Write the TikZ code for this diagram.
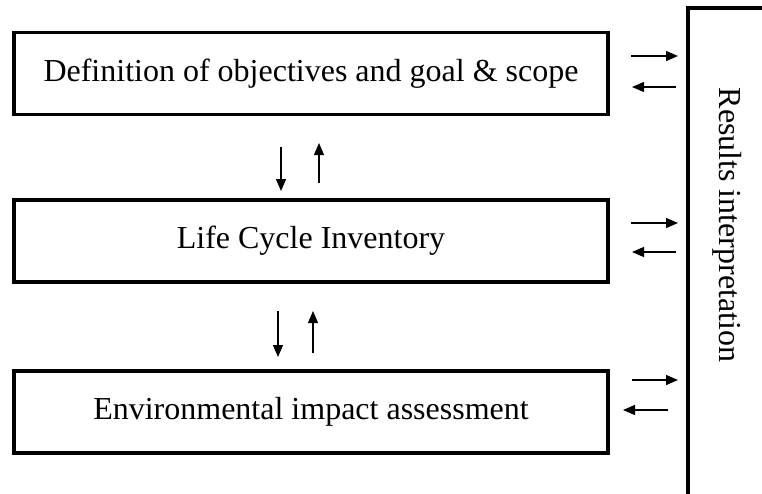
\documentclass[tikz,border=0pt]{standalone}
\usepackage{fontspec}
\setmainfont{Liberation Serif}
\usetikzlibrary{arrows.meta}

\tikzset{
    stage/.style = {draw, line width = 3.5pt, minimum width = 594pt, minimum height = 82pt,
        inner sep = 0pt, font = \fontsize{32}{36}\selectfont},
    flow/.style = {line width = 1.3pt, -{Triangle[length = 12pt, width = 10pt]}}
}

\begin{document}
\begin{tikzpicture}[x = 1pt, y = -1pt]
        \useasboundingbox (0,0) rectangle (762,493);
        \clip (0,0) rectangle (762,493);

        \node[stage] (goal) at (311,73.5) {Definition of objectives and goal \& scope};
        \node[stage] (lci) at (311,241) {Life Cycle Inventory};
        \node[stage] (lcia) at (311,412) {Environmental impact assessment};

        \draw[line width = 3.5pt] (688,8) rectangle (790,520); % results
        \node[rotate = -90, font = \fontsize{32}{36}\selectfont] (interp) at (727,225) {Results interpretation};

        % between the stages
        \coordinate (g1) at (281,147); \coordinate (g2) at (281,191);
        \coordinate (g3) at (319,183); \coordinate (g4) at (319,143);
        \coordinate (l1) at (278,311); \coordinate (l2) at (278,357);
        \coordinate (l3) at (313,353); \coordinate (l4) at (313,311);
        \draw[flow] (g1) -- (g2);
        \draw[flow] (g3) -- (g4);
        \draw[flow] (l1) -- (l2);
        \draw[flow] (l3) -- (l4);

        % to and from the interpretation
        \coordinate (a1) at (631,56); \coordinate (a2) at (678,56);
        \coordinate (a3) at (676,87); \coordinate (a4) at (632,87);
        \coordinate (b1) at (631,223); \coordinate (b2) at (678,223);
        \coordinate (b3) at (676,252); \coordinate (b4) at (632,252);
        \coordinate (c1) at (632,380); \coordinate (c2) at (678,380);
        \coordinate (c3) at (668,410); \coordinate (c4) at (623,410);
        \draw[flow] (a1) -- (a2);
        \draw[flow] (a3) -- (a4);
        \draw[flow] (b1) -- (b2);
        \draw[flow] (b3) -- (b4);
        \draw[flow] (c1) -- (c2);
        \draw[flow] (c3) -- (c4);
\end{tikzpicture}
\end{document}
